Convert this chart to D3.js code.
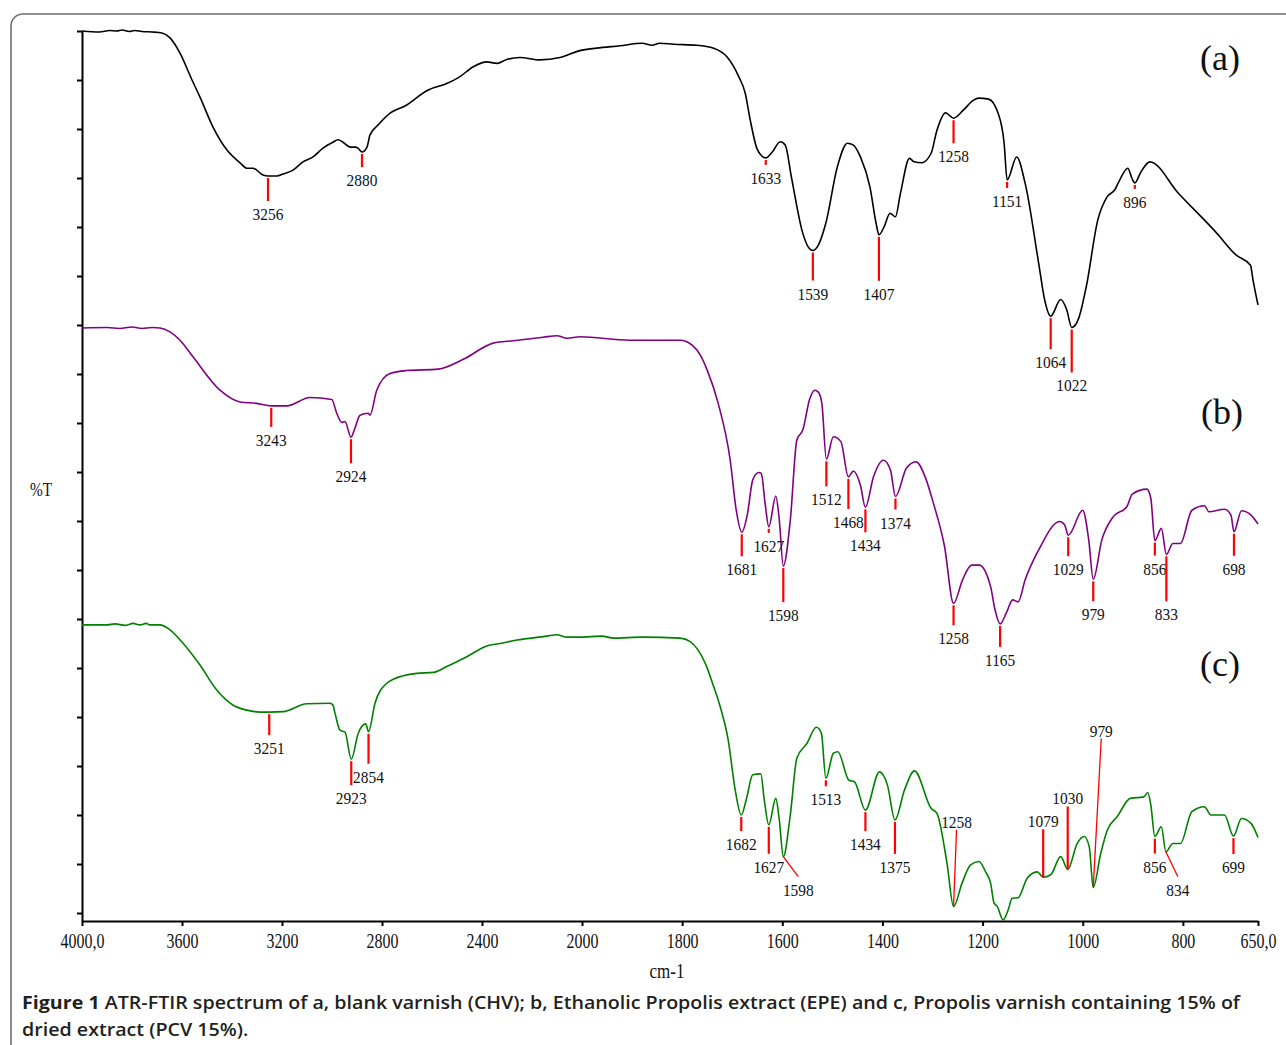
<!DOCTYPE html>
<html lang="en">

<head>
    <meta charset="UTF-8" />
    <title>ATR-FTIR spectrum of CHV, EPE and PCV 15%</title>
    <script src="https://d3js.org/d3.v7.min.js"></script>
    <style>
        body { margin: 0; background: #fff; }
        .serif { font-family: "Liberation Serif", "Times New Roman", serif; fill: #111; }
        .caption { font-family: "Open Sans", "Noto Sans", sans-serif; fill: #231f20; font-size: 18px; }
    </style>
</head>

<body>
    <script>
        // ---- data: [wavenumber cm-1, %T (offset)] ----
        var specA = [[4000,180.0],[3930,179.8],[3890,180.1],[3860,180.0],[3840,180.2],[3810,179.9],[3790,180.1],[3760,179.9],[3720,179.8],[3680,179.6],[3648,178.6],[3608,175.5],[3560,170.0],[3528,166.5],[3476,160.4],[3420,155.7],[3368,153.1],[3340,152.0],[3316,152.0],[3276,150.6],[3256,150.4],[3220,150.4],[3196,150.8],[3156,151.6],[3116,153.3],[3076,154.3],[3036,156.1],[2996,157.3],[2976,157.8],[2956,157.3],[2928,156.3],[2908,156.3],[2896,156.1],[2880,155.3],[2860,156.3],[2848,158.8],[2816,160.8],[2776,162.9],[2701,164.9],[2621,167.8],[2541,169.3],[2488,170.7],[2435,172.7],[2381,173.7],[2340,173.4],[2301,174.2],[2248,174.6],[2168,174.1],[2088,174.6],[2008,176.0],[1971,176.5],[1924,177.0],[1880,177.5],[1860,177.1],[1845,177.5],[1817,177.3],[1771,177.1],[1737,176.5],[1711,174.8],[1687,170.7],[1674,167.3],[1664,161.8],[1651,156.1],[1641,154.5],[1633,154.1],[1620,155.3],[1604,157.4],[1594,156.7],[1582,150.3],[1559,138.7],[1548,135.9],[1539,135.2],[1528,136.3],[1513,140.8],[1490,152.3],[1470,157.1],[1458,156.7],[1444,154.3],[1425,148.2],[1412,140.4],[1407,138.4],[1396,140.2],[1385,142.8],[1374,142.1],[1364,146.9],[1346,154.0],[1337,153.3],[1322,153.1],[1303,155.0],[1291,159.8],[1274,163.3],[1258,162.2],[1238,163.9],[1218,165.9],[1208,166.3],[1188,166.1],[1169,163.2],[1157,157.1],[1151,149.6],[1132,154.3],[1115,148.9],[1088,132.6],[1076,125.1],[1064,121.8],[1044,125.2],[1032,123.1],[1022,119.5],[1008,121.4],[993,127.8],[970,141.4],[951,146.2],[936,147.6],[928,149.2],[910,152.0],[902,150.0],[896,149.0],[884,151.2],[866,153.3],[809,146.9],[732,138.7],[694,134.3],[665,132.2],[660,129.2],[650,124.1]];

        var specB = [[4000,119.4],[3900,119.5],[3850,119.3],[3800,119.6],[3760,119.3],[3720,119.5],[3688,119.4],[3648,118.6],[3608,116.9],[3556,113.5],[3448,106.7],[3368,104.3],[3301,104.0],[3243,103.5],[3181,103.5],[3088,105.2],[3001,104.8],[2981,102.0],[2961,100.1],[2948,100.3],[2924,97.1],[2908,99.0],[2888,101.6],[2855,102.0],[2848,101.6],[2821,106.7],[2768,110.1],[2701,110.7],[2575,111.0],[2475,113.0],[2355,116.3],[2275,116.8],[2155,117.5],[2100,117.8],[2060,117.3],[2008,117.6],[1904,116.9],[1804,116.9],[1780,115.9],[1764,113.9],[1750,110.8],[1728,104.0],[1704,92.4],[1692,82.2],[1681,77.7],[1670,81.2],[1659,88.4],[1647,89.9],[1642,89.7],[1634,83.3],[1627,78.8],[1613,85.1],[1606,80.2],[1598,70.8],[1584,80.2],[1571,96.5],[1559,98.6],[1545,105.0],[1535,106.7],[1528,106.3],[1521,104.0],[1512,92.6],[1498,97.2],[1483,96.2],[1468,89.0],[1458,90.2],[1444,87.3],[1434,82.8],[1418,89.0],[1398,92.4],[1384,90.4],[1374,85.0],[1352,90.8],[1333,92.1],[1314,88.8],[1299,83.9],[1276,74.8],[1258,63.2],[1240,68.0],[1222,71.0],[1207,71.0],[1184,66.6],[1175,61.8],[1165,59.0],[1152,61.4],[1140,63.9],[1129,63.5],[1115,68.0],[1088,74.1],[1046,79.9],[1036,79.2],[1029,77.1],[1000,82.2],[988,76.1],[979,68.1],[962,76.1],[939,80.9],[912,82.9],[901,85.5],[872,86.5],[864,84.6],[856,76.0],[843,78.5],[833,73.2],[820,75.4],[805,75.4],[782,82.2],[757,83.1],[748,81.9],[717,82.4],[704,81.2],[698,77.8],[683,82.1],[664,81.2],[650,79.4]];

        var specC = [[4000,58.8],[3900,58.8],[3868,59.0],[3828,58.7],[3796,59.1],[3768,58.8],[3744,59.1],[3728,58.8],[3688,58.8],[3648,57.8],[3595,55.0],[3528,50.6],[3461,45.5],[3395,42.4],[3341,41.4],[3288,41.0],[3251,41.0],[3195,41.1],[3101,42.7],[3008,42.8],[2996,42.4],[2988,40.8],[2968,37.3],[2948,36.9],[2923,31.4],[2895,36.7],[2865,38.6],[2854,37.0],[2828,42.8],[2781,46.9],[2755,47.7],[2661,48.9],[2595,49.1],[2541,50.3],[2461,52.3],[2381,54.5],[2328,55.0],[2261,55.7],[2141,56.5],[2100,56.8],[2060,56.3],[2008,56.3],[1960,56.5],[1937,56.1],[1880,56.3],[1804,56.1],[1784,55.4],[1754,51.0],[1737,46.2],[1724,42.1],[1708,35.3],[1694,25.1],[1682,20.0],[1672,23.1],[1659,28.2],[1643,28.4],[1636,23.1],[1627,18.0],[1613,23.4],[1606,19.0],[1598,11.5],[1584,20.0],[1571,31.6],[1551,34.6],[1532,37.9],[1522,36.7],[1513,27.5],[1498,32.6],[1489,32.9],[1467,27.1],[1456,26.8],[1434,21.0],[1406,28.8],[1390,26.1],[1375,19.0],[1356,25.1],[1336,29.0],[1303,21.4],[1291,20.3],[1271,10.1],[1258,1.3],[1241,6.1],[1224,9.8],[1207,10.5],[1194,8.4],[1184,6.1],[1177,2.0],[1171,1.4],[1159,-1.4],[1149,0.6],[1141,3.0],[1129,3.1],[1111,7.1],[1091,8.4],[1079,7.3],[1064,7.8],[1044,11.5],[1030,8.9],[1011,14.2],[997,15.6],[987,13.5],[979,5.2],[964,12.2],[951,16.9],[931,19.7],[905,23.4],[878,23.7],[870,24.6],[864,22.0],[856,15.6],[843,17.6],[834,12.5],[820,14.2],[805,14.2],[782,20.7],[757,21.7],[744,20.0],[717,20.0],[699,15.7],[683,19.3],[664,18.3],[650,15.4]];

        // labelled bands (cm-1)
        var peaksA = [3256, 2880, 1633, 1539, 1407, 1258, 1151, 896, 1064, 1022];
        var peaksB = [3243, 2924, 1681, 1627, 1598, 1512, 1468, 1434, 1374, 1258, 1165, 1029, 979, 856, 833, 698];
        var peaksC = [3251, 2923, 2854, 1682, 1627, 1513, 1434, 1375, 1079, 1030, 856, 699];
        var leaderPeaksC = [1598, 834, 1258, 979];

        var xTicks = [4000, 3600, 3200, 2800, 2400, 2000, 1800, 1600, 1400, 1200, 1000, 800, 650];
        var xTickLabels = ["4000,0", "3600", "3200", "2800", "2400", "2000", "1800", "1600", "1400", "1200", "1000", "800", "650,0"];
        var yTicks = d3.range(0, 181, 10);

        var seriesTags = ["(a)", "(b)", "(c)"];
        var captionBold = "Figure 1";
        var captionLine1 = " ATR-FTIR spectrum of a, blank varnish (CHV); b, Ethanolic Propolis extract (EPE) and c, Propolis varnish containing 15% of";
        var captionLine2 = "dried extract (PCV 15%).";

        // ---- layout (pixels) ----
        var tickLenA = [23, 13, 5, 28, 44, 23, 6, 4, 31, 43];
        var tickLenB = [19, 24, 22, 4, 34, 25, 30, 23, 11, 20, 21, 19, 20, 13, 45, 22];
        var tickLenC = [21, 24, 30, 14, 27, 6, 19, 32, -48, -63, 15, 16];
        var leaderOffC = [[15, 20], [12, 25], [3, -77], [8, -149]];
        var tagPos = [[1220, 70], [1222, 424], [1220, 676]];

        var w = 1286;
        var h = 1045;

        var svg = d3.select("body")
            .append("svg")
            .attr("width", w)
            .attr("height", h);

        // frame
        svg.append("rect")
            .attr("x", 11).attr("y", 14)
            .attr("width", 1300).attr("height", 1100)
            .attr("rx", 12)
            .style("fill", "none")
            .style("stroke", "#6e6e6e")
            .style("stroke-width", 1.6);

        var xScale = d3.scaleLinear()
            .domain([4000, 2000, 650])
            .range([82, 582, 1258]);

        var yScale = d3.scaleLinear()
            .domain([-1.63, 180])
            .range([921, 31]);

        // X axis
        var gx = svg.append("g")
            .attr("transform", "translate(0,921)")
            .call(d3.axisBottom(xScale)
                .tickValues(xTicks)
                .tickSizeInner(5)
                .tickSizeOuter(0)
                .tickFormat(function (d, i) { return xTickLabels[i]; }));
        gx.selectAll("path, line").style("stroke", "#000").style("stroke-width", 2);
        gx.selectAll("text")
            .attr("class", "serif")
            .attr("y", 0)
            .attr("dy", null)
            .attr("transform", "translate(0,27) scale(0.76,1)")
            .style("font-size", "21px")
            .style("fill", "#111");

        // Y axis (no labels)
        var gy = svg.append("g")
            .attr("transform", "translate(82,0)")
            .call(d3.axisLeft(yScale)
                .tickValues(yTicks)
                .tickSizeInner(5)
                .tickSizeOuter(0)
                .tickFormat(""));
        gy.selectAll("path, line").style("stroke", "#000").style("stroke-width", 2);

        // axis titles
        svg.append("text")
            .attr("class", "serif")
            .attr("text-anchor", "middle")
            .attr("transform", "translate(667,978) scale(0.85,1)")
            .style("font-size", "20px")
            .text("cm-1");

        svg.append("text")
            .attr("class", "serif")
            .attr("text-anchor", "middle")
            .attr("transform", "translate(41,496) scale(0.85,1)")
            .style("font-size", "18px")
            .text("%T");

        // spectra
        var line = d3.line()
            .x(function (d) { return xScale(d[0]); })
            .y(function (d) { return yScale(d[1]); })
            .curve(d3.curveMonotoneX);

        var series = [specA, specB, specC];
        var colors = ["#000000", "#800080", "#008000"];

        series.forEach(function (s, i) {
            svg.append("path")
                .datum(s)
                .attr("d", line)
                .style("fill", "none")
                .style("stroke", colors[i])
                .style("stroke-width", 1.6)
                .style("stroke-linejoin", "round");
        });

        // value of a spectrum at a wavenumber
        function valueAt(s, wn) {
            for (var i = 0; i < s.length - 1; i++) {
                if (s[i][0] >= wn && s[i + 1][0] <= wn) {
                    var t = (s[i][0] - wn) / (s[i][0] - s[i + 1][0]);
                    return s[i][1] + t * (s[i + 1][1] - s[i][1]);
                }
            }
            return s[s.length - 1][1];
        }

        function peakLabel(x, y, txt) {
            svg.append("text")
                .attr("class", "serif")
                .attr("text-anchor", "middle")
                .attr("transform", "translate(" + x + "," + y + ") scale(0.88,1)")
                .style("font-size", "17.5px")
                .text(txt);
        }

        function drawPeaks(s, peaks, lens) {
            peaks.forEach(function (wn, i) {
                var x = xScale(wn);
                var yc = yScale(valueAt(s, wn));
                var len = lens[i];
                var y0 = len > 0 ? yc + 2 : yc;
                var y1 = y0 + len;
                svg.append("line")
                    .attr("x1", x).attr("x2", x)
                    .attr("y1", y0).attr("y2", y1)
                    .style("stroke", "#ff0000")
                    .style("stroke-width", 2.2);
                peakLabel(x, len > 0 ? y1 + 19 : y1 - 2, String(wn));
            });
        }

        drawPeaks(specA, peaksA, tickLenA);
        drawPeaks(specB, peaksB, tickLenB);
        drawPeaks(specC, peaksC, tickLenC);

        // slanted leaders on spectrum c
        leaderPeaksC.forEach(function (wn, i) {
            var x = xScale(wn);
            var y = yScale(valueAt(specC, wn));
            var off = leaderOffC[i];
            svg.append("line")
                .attr("x1", x).attr("y1", y)
                .attr("x2", x + off[0]).attr("y2", y + off[1])
                .style("stroke", "#ff0000")
                .style("stroke-width", 1.3);
            peakLabel(x + off[0], off[1] > 0 ? y + off[1] + 19 : y + off[1] - 1.5, String(wn));
        });

        // spectrum tags
        seriesTags.forEach(function (t, i) {
            svg.append("text")
                .attr("class", "serif")
                .attr("text-anchor", "middle")
                .attr("x", tagPos[i][0])
                .attr("y", tagPos[i][1])
                .style("font-size", "36px")
                .text(t);
        });

        // caption
        var cap1 = svg.append("text")
            .attr("class", "caption")
            .attr("x", 22)
            .attr("y", 1009);
        cap1.append("tspan").style("font-weight", 700).text(captionBold);
        cap1.append("tspan").style("font-weight", 600).text(captionLine1);

        var cap2 = svg.append("text")
            .attr("class", "caption")
            .attr("x", 22)
            .attr("y", 1036)
            .style("font-weight", 600)
            .text(captionLine2);

        var ratio = 1218 / cap1.node().getComputedTextLength();
        cap1.attr("textLength", 1218).attr("lengthAdjust", "spacingAndGlyphs");
        cap2.attr("textLength", cap2.node().getComputedTextLength() * ratio)
            .attr("lengthAdjust", "spacingAndGlyphs");
    </script>
</body>

</html>
